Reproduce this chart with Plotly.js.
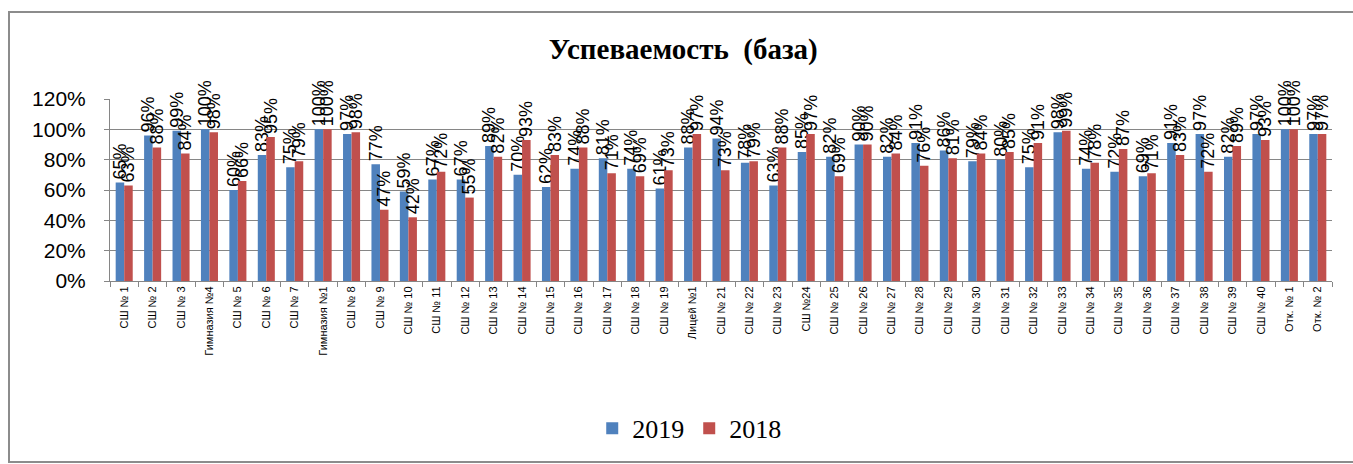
<!DOCTYPE html>
<html>
<head>
<meta charset="utf-8">
<script src="https://cdn.plot.ly/plotly-3.0.1.min.js"></script>
<style>
  body { margin: 0; background: #fff; }
  #wrap { position: relative; width: 1353px; height: 464px; }
  #myDiv { width: 1353px; height: 464px; }
  #frame { position: absolute; left: 8px; top: 11px; width: 1350px; height: 448px;
           border: 2px solid #8c8c8c; pointer-events: none; }
</style>
</head>
<body>
<div id="wrap">
  <div id="myDiv"></div>
  <div id="frame"></div>
</div>
<script>
let schools = ["СШ № 1", "СШ № 2", "СШ № 3", "Гимназия №4", "СШ № 5", "СШ № 6", "СШ № 7", "Гимназия №1",
    "СШ № 8", "СШ № 9", "СШ № 10", "СШ № 11", "СШ № 12", "СШ № 13", "СШ № 14", "СШ № 15", "СШ № 16",
    "СШ № 17", "СШ № 18", "СШ № 19", "Лицей №1", "СШ № 21", "СШ № 22", "СШ № 23", "СШ №24", "СШ № 25",
    "СШ № 26", "СШ № 27", "СШ № 28", "СШ № 29", "СШ № 30", "СШ № 31", "СШ № 32", "СШ № 33", "СШ № 34",
    "СШ № 35", "СШ № 36", "СШ № 37", "СШ № 38", "СШ № 39", "СШ № 40", "Отк. № 1", "Отк. № 2"];

let y2019 = [65, 96, 99, 100, 60, 83, 75, 100, 97, 77, 59, 67, 67, 89, 70, 62, 74, 81, 74, 61, 88,
    94, 78, 63, 85, 82, 90, 82, 91, 86, 79, 80, 75, 98, 74, 72, 69, 91, 97, 82, 97, 100, 97];
let y2018 = [63, 88, 84, 98, 66, 95, 79, 100, 98, 47, 42, 72, 55, 82, 93, 83, 88, 71, 69, 73, 97,
    73, 79, 88, 97, 69, 90, 84, 76, 81, 84, 85, 91, 99, 78, 87, 71, 83, 72, 89, 93, 100, 97];

function series(name, vals, color) {
    return {
        type: 'bar',
        name: name,
        x: schools,
        y: vals.map(v => v / 100),
        text: vals.map(v => v + '%'),
        textposition: 'outside',
        textangle: -90,
        constraintext: 'none',
        cliponaxis: false,
        textfont: { family: 'Liberation Sans, Arial, sans-serif', size: 18, color: '#000' },
        marker: { color: color },
        hoverinfo: 'x+y'
    };
}

let layout = {
    width: 1353,
    height: 464,
    margin: { l: 110, r: 21, t: 99, b: 180 },
    paper_bgcolor: '#fff',
    plot_bgcolor: '#fff',
    title: {
        text: '<b>Успеваемость  (база)</b>',
        font: { family: 'Liberation Serif, Times New Roman, serif', size: 29, color: '#000' },
        x: 0.505, xanchor: 'center',
        y: 0.895, yanchor: 'middle'
    },
    barmode: 'group',
    bargap: 0.4,
    bargroupgap: 0,
    xaxis: {
        type: 'category',
        tickangle: -90,
        tickfont: { family: 'Liberation Sans, Arial, sans-serif', size: 11, color: '#000' },
        showline: true, linecolor: '#868686', linewidth: 1,
        ticks: 'outside', tickson: 'boundaries', ticklen: 5, tickcolor: '#868686',
        showgrid: false
    },
    yaxis: {
        range: [0, 1.2],
        dtick: 0.2,
        tickformat: '.0%',
        tickfont: { family: 'Liberation Sans, Arial, sans-serif', size: 21, color: '#000' },
        ticklabelstandoff: 14,
        showline: true, linecolor: '#868686', linewidth: 1,
        ticks: 'outside', ticklen: 5, tickcolor: '#868686',
        gridcolor: '#868686', gridwidth: 1,
        zeroline: false
    },
    showlegend: true,
    legend: {
        orientation: 'h',
        x: 0.474, xanchor: 'center',
        y: -0.81, yanchor: 'middle',
        font: { family: 'Liberation Serif, Times New Roman, serif', size: 26, color: '#000' },
        itemwidth: 30
    }
};

Plotly.newPlot('myDiv', [series('2019', y2019, '#4F81BD'), series('2018', y2018, '#C0504D')], layout, { displayModeBar: false });
</script>
</body>
</html>
